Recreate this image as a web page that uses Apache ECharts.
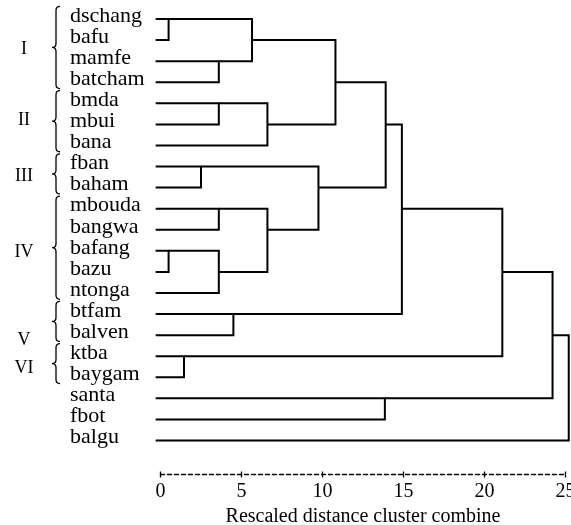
<!DOCTYPE html>
<html><head><meta charset="utf-8">
<script src="https://cdn.jsdelivr.net/npm/echarts@6/dist/echarts.min.js"></script>
<style>html,body{margin:0;padding:0;background:#fff}#c{width:571px;height:525px}</style>
</head><body><div id="c"></div>
<script>
// Leaves (top to bottom)
const leaves = ['dschang','bafu','mamfe','batcham','bmda','mbui','bana','fban','baham','mbouda','bangwa','bafang','bazu','ntonga','btfam','balven','ktba','baygam','santa','fbot','balgu'];
// Merges: indices < 21 are leaves, index 21+k is merge k
const mergeLeft  = [0, 2, 21, 4, 24, 23, 7, 9, 11, 29, 28, 27, 26, 14, 33, 16, 35, 18, 37, 39];
const mergeRight = [1, 3, 22, 5, 6, 25, 8, 10, 12, 13, 30, 31, 32, 15, 34, 17, 36, 19, 38, 20];
const mergeDist  = [0.5, 3.6, 5.65, 3.6, 6.6, 10.8, 2.5, 3.6, 0.5, 3.6, 6.6, 9.75, 13.9, 4.5, 14.9, 1.45, 21.1, 13.85, 24.2, 25.2];
// Groups (braces)
const groupNames = ['I','II','III','IV','V','VI'];
const groupFirst = [0, 4, 7, 9, 14, 16];
const groupLast  = [3, 6, 8, 13, 15, 17];
const groupLabelRow = [1.45, 4.8, 7.45, 11.05, 15.25, 16.55];
// Axis
const xTicks = [0, 5, 10, 15, 20, 25];
const xTitle = 'Rescaled distance cluster combine';

const FONT = 'Liberation Serif';
const LEAF_START = -0.3;
const nLeaf = leaves.length;
const rowOf = [], distOf = [];
leaves.forEach((l, i) => { rowOf[i] = i; distOf[i] = LEAF_START; });
mergeDist.forEach((d, k) => {
  const a = mergeLeft[k], b = mergeRight[k];
  rowOf[nLeaf + k] = Math.floor((rowOf[a] + rowOf[b]) / 2);
  distOf[nLeaf + k] = d;
});
const mergeData = mergeDist.map((d, k) => {
  const a = mergeLeft[k], b = mergeRight[k];
  return [d, rowOf[a], rowOf[b], distOf[a], distOf[b]];
});

const gridBox = {left: 160.5, right: 5.5, top: 19, bottom: 84.5, outerBoundsMode: 'none', containLabel: false};
const chart = echarts.init(document.getElementById('c'), null, {renderer: 'canvas'});
chart.setOption({
  animation: false,
  backgroundColor: '#fff',
  grid: [Object.assign({}, gridBox), Object.assign({}, gridBox)],
  xAxis: [{
    gridIndex: 0,
    type: 'value', min: xTicks[0], max: xTicks[xTicks.length - 1], interval: 5,
    position: 'bottom', offset: 34,
    axisLine: {show: true, onZero: false, lineStyle: {color: '#000', width: 1.4, type: [4, 3]}},
    axisTick: {show: true, length: 3, lineStyle: {color: '#000', width: 1.3}},
    axisLabel: {show: true, color: '#000', fontFamily: FONT, fontSize: 20, margin: 7,
      alignMinLabel: 'center', alignMaxLabel: 'center'},
    splitLine: {show: false},
    name: xTitle, nameLocation: 'middle', nameGap: 20,
    nameTextStyle: {color: '#000', fontFamily: FONT, fontSize: 20, verticalAlign: 'top'}
  }, {
    gridIndex: 1,
    type: 'value', min: xTicks[0], max: xTicks[xTicks.length - 1], interval: 5,
    position: 'bottom', offset: 34,
    axisLine: {show: false, onZero: false},
    axisTick: {show: true, inside: true, length: 3, lineStyle: {color: '#000', width: 1.3}},
    axisLabel: {show: false},
    splitLine: {show: false}
  }],
  yAxis: [
    {gridIndex: 0, type: 'value', inverse: true, min: 0, max: nLeaf - 1, show: false},
    {gridIndex: 1, type: 'value', inverse: true, min: 0, max: nLeaf - 1, show: false}
  ],
  series: [{
    type: 'custom', clip: false, silent: true, xAxisIndex: 0, yAxisIndex: 0,
    data: mergeData,
    encode: {x: 0, y: 1},
    renderItem: (params, api) => {
      const d = api.value(0), ra = api.value(1), rb = api.value(2), da = api.value(3), db = api.value(4);
      const a0 = api.coord([da, ra]), a1 = api.coord([d, ra]);
      const b1 = api.coord([d, rb]), b0 = api.coord([db, rb]);
      return {type: 'polyline', shape: {points: [a0, a1, b1, b0]},
        style: {stroke: '#000', lineWidth: 2, fill: null, lineJoin: 'miter'}};
    }
  }, {
    type: 'custom', clip: false, silent: true, xAxisIndex: 0, yAxisIndex: 0,
    data: leaves.map((n, i) => [0, i]),
    encode: {x: 0, y: 1},
    renderItem: (params, api) => {
      const p = api.coord([api.value(0), api.value(1)]);
      return {type: 'text', x: p[0] - 90.5, y: p[1] - 3,
        style: {text: leaves[params.dataIndex], fill: '#000', font: '22px "' + FONT + '"',
          textAlign: 'left', textVerticalAlign: 'middle'}};
    }
  }, {
    type: 'custom', clip: false, silent: true, xAxisIndex: 0, yAxisIndex: 0,
    data: groupNames.map((g, i) => [0, groupFirst[i], groupLast[i], groupLabelRow[i]]),
    encode: {x: 0, y: 1},
    renderItem: (params, api) => {
      const x0 = api.coord([0, 0])[0];
      const yt = api.coord([0, api.value(1) - 0.6])[1];
      const yb = api.coord([0, api.value(2) + 0.3])[1];
      const yl = api.coord([0, api.value(3)])[1];
      const xr = x0 - 100.5, xl = x0 - 108.5, xm = (xr + xl) / 2;
      const ym = (yt + yb) / 2, q = 4;
      const path = 'M' + xr + ' ' + yt + ' Q' + xm + ' ' + yt + ' ' + xm + ' ' + (yt + q) +
        ' L' + xm + ' ' + (ym - q) + ' Q' + xm + ' ' + ym + ' ' + xl + ' ' + ym +
        ' Q' + xm + ' ' + ym + ' ' + xm + ' ' + (ym + q) +
        ' L' + xm + ' ' + (yb - q) + ' Q' + xm + ' ' + yb + ' ' + xr + ' ' + yb;
      return {type: 'group', children: [
        {type: 'path', shape: {pathData: path}, style: {stroke: '#000', lineWidth: 1.3, fill: null}},
        {type: 'text', x: x0 - 136.5, y: yl,
          style: {text: groupNames[params.dataIndex], fill: '#000', font: '18px "' + FONT + '"',
            textAlign: 'center', textVerticalAlign: 'middle'}}
      ]};
    }
  }]
});
</script></body></html>
